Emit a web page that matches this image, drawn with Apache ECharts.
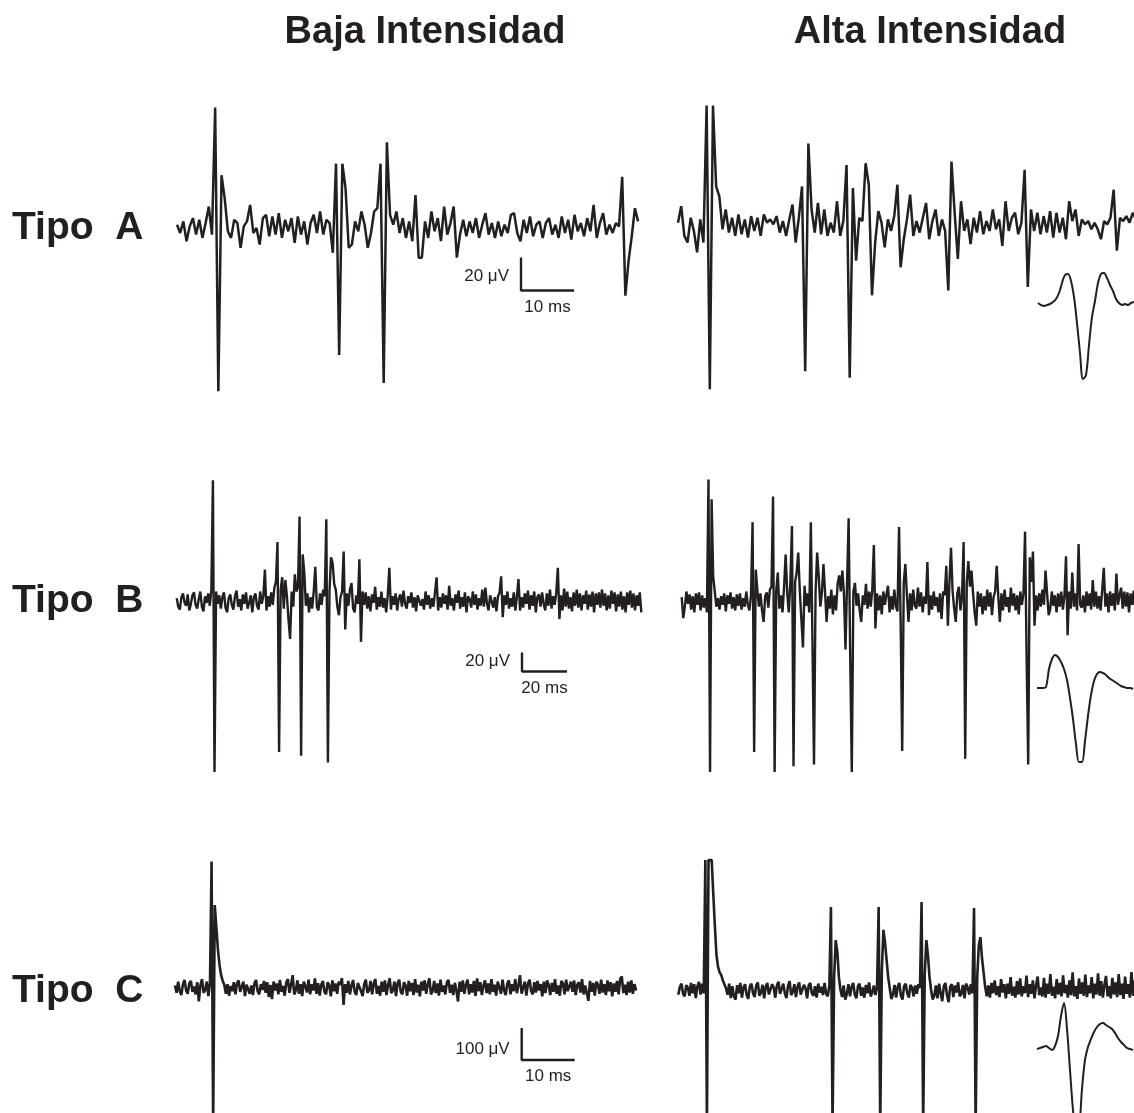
<!DOCTYPE html>
<html>
<head>
<meta charset="utf-8">
<script src="https://cdn.jsdelivr.net/npm/echarts@6/dist/echarts.min.js"></script>
<style>
  html, body { margin: 0; padding: 0; background: #ffffff; }
  #chart { width: 1134px; height: 1113px; }
</style>
</head>
<body>
<div id="chart"></div>
<script>
// ---- text ----
const columnTitles = ['Baja Intensidad', 'Alta Intensidad'];
const rowLabels = ['Tipo  A', 'Tipo  B', 'Tipo  C'];

// ---- recordings ----
// sample interval of each row (ms)
const sampleMs = [0.6, 0.7, 0.3];
// calibration bars: amplitude (µV) and duration (ms)
const barMicrovolts = [20, 20, 100];
const barMillis = [10, 20, 10];

// extracellular traces, µV
const bajaA = [2,-3,4,-8,1,6,-4,5,-6,3,13,-4,73,-99,32,18,-2,-6,5,3,-12,1,4,14,-3,0,-10,6,8,-5,7,-4,9,-6,5,-2,6,-9,7,-4,4,-10,3,8,-3,10,-4,5,3,-15,39,-77,39,24,-12,-10,4,-2,10,2,-12,-3,10,12,39,-94,52,8,2,10,-3,6,-6,4,-8,20,-18,-18,4,-6,10,-2,6,-8,13,-4,3,13,-18,-4,5,-5,4,-3,6,-6,2,9,-4,3,-6,4,-5,2,-3,8,9,-3,-8,5,-3,7,-5,2,4,-6,3,6,-4,2,-6,7,-3,5,-7,8,-2,3,-5,6,-2,14,-6,3,9,-4,2,-3,3,1,31,-41,-20,-5,12,4];
const altaA = [2,12,-6,-10,5,-3,-16,4,-10,73,-99,73,24,18,-2,10,-4,5,-6,7,-5,4,-7,6,-3,5,-6,7,2,4,1,6,-4,3,-6,4,13,-10,5,24,-88,50,10,-4,14,-5,10,-6,2,-4,15,-6,3,37,-92,23,-21,5,3,38,25,-42,-10,9,2,-13,4,-3,6,25,-25,-8,4,19,-6,3,-4,5,14,-8,3,10,-6,4,-3,-39,39,8,-20,15,-3,4,-11,5,-4,9,-5,3,-3,10,-2,4,-12,15,-3,5,8,-5,2,34,-37,10,-3,8,-5,6,-4,9,-7,8,-4,5,-8,15,3,10,-6,4,1,3,-2,2,-2,-8,3,1,5,22,-15,5,3,6,2,8,4,9];
const bajaB = [
  3,-6,-9,4,8,-2,-5,7,-10,-3, 6,9,-4,-8,2,10,-6,-11,5,-2, 8,-5,12,127,-180,10,-3,6,-8,4,
  9,-7,-12,3,7,-4,-9,5,11,-6, 2,-10,7,-3,9,-8,-2,6,-12,4, 8,-5,-9,10,-3,5,33,-10,5,-6,
  9,-4,14,20,62,-159,12,25,-8,22, 5,-20,-40,10,-6,28,10,15,89,-163, 49,30,-5,8,-12,4,-8,10,36,-6,
  -10,8,-4,12,5,86,-170,10,46,40, 18,12,-6,-15,4,10,52,-30,8,-5, 12,19,-8,-12,6,-3,44,-43,10,-4,
  9,-8,5,-11,7,-2,15,-9,4,-6, 10,-7,3,-12,6,35,-9,5,-4,8, -10,3,7,-6,11,-3,-8,5,-2,9,
  -7,4,-11,6,8,-5,2,-9,10,-4, 6,-8,3,-6,9,25,-10,4,-7,8, -3,6,-9,16,-5,3,-10,7,-2,11,
  -8,4,-6,9,-12,5,2,-7,10,-4, 7,-9,3,-5,12,-6,14,-3,-10,6, 8,-7,4,-11,5,9,26,-17,6,-4,
  10,-8,3,-6,9,-10,5,23,-10,4, -7,8,-3,11,-9,6,-5,10,-12,4, 7,-6,9,-3,-10,8,-5,12,-8,5,
  -4,9,35,-19,6,-10,13,-6,10,-8, 4,-11,9,-5,12,-7,8,-10,6,-3, 11,-9,7,-6,10,-12,8,-4,9,-7,
  12,-5,8,-10,6,-8,11,-3,9,-11, 7,-6,10,-9,5,-12,9,-4,11,-7, 8,-10,6,-5,9,-12];
const altaB = [
  4,-18,-6,10,-3,7,-9,5,-12,8, -4,9,-10,6,-7,3,-12,128,-180,107, 25,10,-6,3,-9,5,-4,8,-11,6,
  -3,9,-8,4,-10,7,-5,8,-9,3, -6,10,-4,-10,6,83,-159,33,12,-6, 8,-10,-22,5,9,-7,12,15,110,-180,
  10,30,-8,6,-12,15,49,8,-12,20, 79,-174,20,30,51,10,-20,-49,16,-5, 8,-12,83,-40,-172,10,51,26,-6,8,
  39,10,-22,5,-8,12,-14,6,-10,18, 27,10,32,8,-51,20,87,-60,-180,10, 19,-5,8,-10,-22,6,-4,18,-8,10,
  -6,12,59,-29,8,-10,6,-14,10,-4, 7,16,-12,5,-9,12,-6,-11,78,-20, -158,20,39,6,-22,8,-10,12,-5,-8,
  14,-6,9,-12,5,-3,41,-15,6,-9, 10,-5,4,-12,8,-19,10,6,37,-26, 20,56,10,-8,-22,8,15,-10,6,62,
  -166,20,42,15,32,8,-12,-26,10,-6, 8,-14,5,-10,12,-6,9,-15,4,10, 37,5,-22,8,-10,12,-6,4,-12,14,
  -5,8,-10,6,-14,10,-4,8,73,-60, -172,46,20,52,-26,6,-10,8,-6,12, -4,32,8,-15,-8,10,-5,6,-12,8,
  -6,10,-9,5,47,-36,10,-8,30,-6, 8,-10,60,-4,-7,6,-12,10,-5,8, -9,22,-6,10,-8,5,-10,12,35,-6,
  8,-12,10,-5,8,-10,29,-4,6,14, -8,10,-6,9,-12,8,-4,11,-8,6, 10];
const bajaC = [
  8,-15,20,-10,-22,12,25,-8,-18,15, 22,-12,5,-20,18,-42,10,28,-15,-6, 20,-25,15,395,-430,259,190,120,72,40,
  22,10,-18,12,-24,6,-10,18,-20,14, 24,-12,-6,20,-25,10,16,-18,8,-22, 15,25,-10,-20,12,-6,22,-15,18,-28,
  10,-35,20,-8,14,-20,25,-12,6,-24, 18,28,-15,10,40,-20,-8,24,-18,12, -25,20,6,-14,26,-20,12,-8,30,-18,
  15,-24,10,22,-12,-20,18,8,-26,24, -10,14,-18,20,10,31,-53,12,-15,22, -20,8,25,-12,-22,16,20,-10,-25,12,
  26,-15,-8,22,-20,14,28,-18,6,-24, 20,-12,24,-22,10,30,-16,-8,20,-25, 15,26,-12,-20,18,8,-24,22,-10,16,
  -22,28,-14,10,-26,20,-8,24,-18,12, 30,-20,-10,22,-16,14,-24,26,-12,8, -20,18,25,-15,10,-22,16,-8,-42,20,
  -12,24,-18,10,26,-20,12,-14,22,-25, 30,-10,18,-22,8,24,-16,14,-20,28, -12,10,-24,20,16,-18,26,-8,-22,14,
  24,-20,12,-10,28,-16,8,40,-18,-12, 20,-24,14,26,-10,-20,18,-14,22,-8, 12,-26,20,-16,24,10,-22,16,-12,28,
  -18,8,-24,22,14,-20,26,-10,-16,20, -12,24,-22,10,18,-14,28,-20,8,-16, -40,22,-12,16,-24,20,10,-18,26,-14,
  12,-22,24,-10,18,-26,14,-12,22,-20, 28,36,-16,10,-22,20,-14,24,-18,12, -8];
const altaC = [
  -15,10,20,-12,-20,15,8,-18,22,-10, 18,-25,12,25,-14,20,-10,406,-430,406, 406,406,300,200,110,72,55,47,30,18,
  5,-15,20,-25,12,-20,-30,15,-10,22, -24,8,18,-16,-28,12,20,-10,-22,14, 24,-18,-8,16,-26,10,22,-14,-20,18,
  8,-24,14,26,-12,-18,20,-10,-25,12, 28,-16,-6,18,-22,10,24,-14,-20,16, 6,-26,14,22,-10,-18,12,-24,20,-8,
  10,-16,22,-12,-20,14,259,-430,40,156, 120,40,0,-22,14,-30,-12,18,-20,10, 22,-14,-26,12,20,-18,8,-24,16,-10,
  24,-20,-8,14,-16,10,259,-430,60,188, 150,94,40,5,-28,-14,16,-24,10,22, -18,-30,12,20,-10,-24,16,8,-20,14,
  -12,18,6,275,-430,50,156,110,40,0, -30,-18,14,-26,20,-10,-35,12,22,-16, -38,10,18,-22,14,-8,24,-20,-12,16,
  -26,20,8,-14,18,-10,256,-430,40,140, 165,100,55,10,-20,14,-24,22,-10,30, -16,12,-22,34,-8,18,-26,20,-12,40,
  -18,10,-24,28,-14,36,-20,12,-10,45, -22,18,-12,30,-26,14,42,-16,8,-20, 38,-24,20,-12,50,-18,10,-26,34,-14,
  22,-20,46,-10,16,-24,30,-16,55,-20, 12,-28,36,-12,24,-18,48,-22,14,-10, 40,-26,20,-14,52,-18,28,-24,16,44,
  -20,12,-26,38,-14,24,-22,50,-16,20, -28,42,-12,18,-24,56,-18,30,-20,46, -14];

// averaged unit waveforms shown beside the high-intensity traces
const unidadA = [0,-2,-3,-2,-1,1,4,10,20,28,29,22,6,-20,-50,-76,-72,-42,-14,2,20,29,30,25,18,12,4,0,-2,-1,-2,0,1];
const unidadB = [0,0,0,1,19,29,33,31,26,19,8,-10,-31,-56,-74,-74,-53,-28,-7,7,14,16,15,13,10,8,6,4,2,1,0,0,-1];
const unidadC = [0,1,2,3,1,-1,3,13,33,46,20,-21,-61,-85,-80,-40,-11,2,10,17,22,25,26,24,22,20,16,11,7,4,1,0,-1];

// ---- layout ----
const INK = '#231f20';
const FONT = '"Liberation Sans", Arial, Helvetica, sans-serif';

const rows = [
  { baja: bajaA, alta: altaA, unidad: unidadA, lineW: 2.5,
    pxPerUv: 1.65, pxPerMs: 5.3, top: 95, height: 310,
    bajaX: 177, bajaW: 462, bajaBase: 228,
    altaX: 678, altaW: 456, altaBase: 226,
    inset: { left: 1038, top: 255, height: 140, base: 303 },
    barX: 521, barY: 290.5, uvLabelY: 276, labelY: 228 },
  { baja: bajaB, alta: altaB, unidad: unidadB, lineW: 2.4,
    pxPerUv: 0.95, pxPerMs: 2.25, top: 465, height: 330,
    bajaX: 176.7, bajaW: 465, bajaBase: 601,
    altaX: 681.7, altaW: 452, altaBase: 601,
    inset: { left: 1037, top: 640, height: 140, base: 688 },
    barX: 522, barY: 671.5, uvLabelY: 661, labelY: 601 },
  { baja: bajaC, alta: altaC, unidad: unidadC, lineW: 2.6,
    pxPerUv: 0.32, pxPerMs: 5.3, top: 850, height: 263,
    bajaX: 175, bajaW: 463, bajaBase: 988,
    altaX: 678.3, altaW: 455, altaBase: 990,
    inset: { left: 1037, top: 990, height: 123, base: 1049 },
    barX: 521.7, barY: 1060, uvLabelY: 1049.5, labelY: 991 }
];

const option = {
  animation: false,
  backgroundColor: '#ffffff',
  grid: [], xAxis: [], yAxis: [], series: [], graphic: []
};

// one invisible coordinate system per trace; returns its index
function addSystem(left, top, width, height, base, pxX, pxY) {
  const i = option.grid.length;
  option.grid.push({ left, top, width, height, containLabel: false, show: false, outerBoundsMode: 'none' });
  option.xAxis.push({ type: 'value', gridIndex: i, show: false, min: 0, max: width / pxX });
  option.yAxis.push({ type: 'value', gridIndex: i, show: false,
    min: -(top + height - base) / pxY, max: (base - top) / pxY });
  return i;
}

function addLine(i, points, width, smooth) {
  option.series.push({
    type: 'line', xAxisIndex: i, yAxisIndex: i, data: points,
    showSymbol: false, symbol: 'none', smooth: smooth || false, silent: true,
    clip: true, animation: false,
    lineStyle: { color: INK, width: width, join: 'bevel', cap: 'butt' }
  });
}

function addText(text, x, y, size, weight, align) {
  option.graphic.push({
    type: 'text', x: x, y: y, silent: true,
    style: { text: text, font: weight + ' ' + size + 'px ' + FONT, fill: INK,
      textAlign: align, textVerticalAlign: 'middle', align: align, verticalAlign: 'middle' }
  });
}

rows.forEach(function (r, k) {
  const dt = sampleMs[k];
  // low-intensity trace + calibration bar
  const b = addSystem(r.bajaX, r.top, r.bajaW, r.height, r.bajaBase, r.pxPerMs, r.pxPerUv);
  addLine(b, r.baja.map(function (v, n) { return [n * dt, v]; }), r.lineW);
  const t0 = (r.barX - r.bajaX) / r.pxPerMs;
  const v0 = (r.bajaBase - r.barY) / r.pxPerUv;
  addLine(b, [[t0, v0 + barMicrovolts[k]], [t0, v0], [t0 + barMillis[k], v0]], 2.4);

  // high-intensity trace
  const a = addSystem(r.altaX, r.top, r.altaW, r.height, r.altaBase, r.pxPerMs, r.pxPerUv);
  addLine(a, r.alta.map(function (v, n) { return [n * dt, v]; }), r.lineW);

  // unit waveform
  const u = addSystem(r.inset.left, r.inset.top, 3 * (r.unidad.length - 1), r.inset.height, r.inset.base, 3, 1);
  addLine(u, r.unidad.map(function (v, n) { return [n, v]; }), 2, 0.35);

  // labels
  addText(rowLabels[k], 12, r.labelY, 39, 'bold', 'left');
  addText(barMicrovolts[k] + ' \u03bcV', r.barX - 12, r.uvLabelY, 17, 'normal', 'right');
  addText(barMillis[k] + ' ms', r.barX + barMillis[k] * r.pxPerMs / 2, r.barY + 16.5, 17, 'normal', 'center');
});

addText(columnTitles[0], 425, 33, 38, 'bold', 'center');
addText(columnTitles[1], 930, 33, 38, 'bold', 'center');

const chart = echarts.init(document.getElementById('chart'), null, { renderer: 'canvas' });
chart.setOption(option);
</script>
</body>
</html>
